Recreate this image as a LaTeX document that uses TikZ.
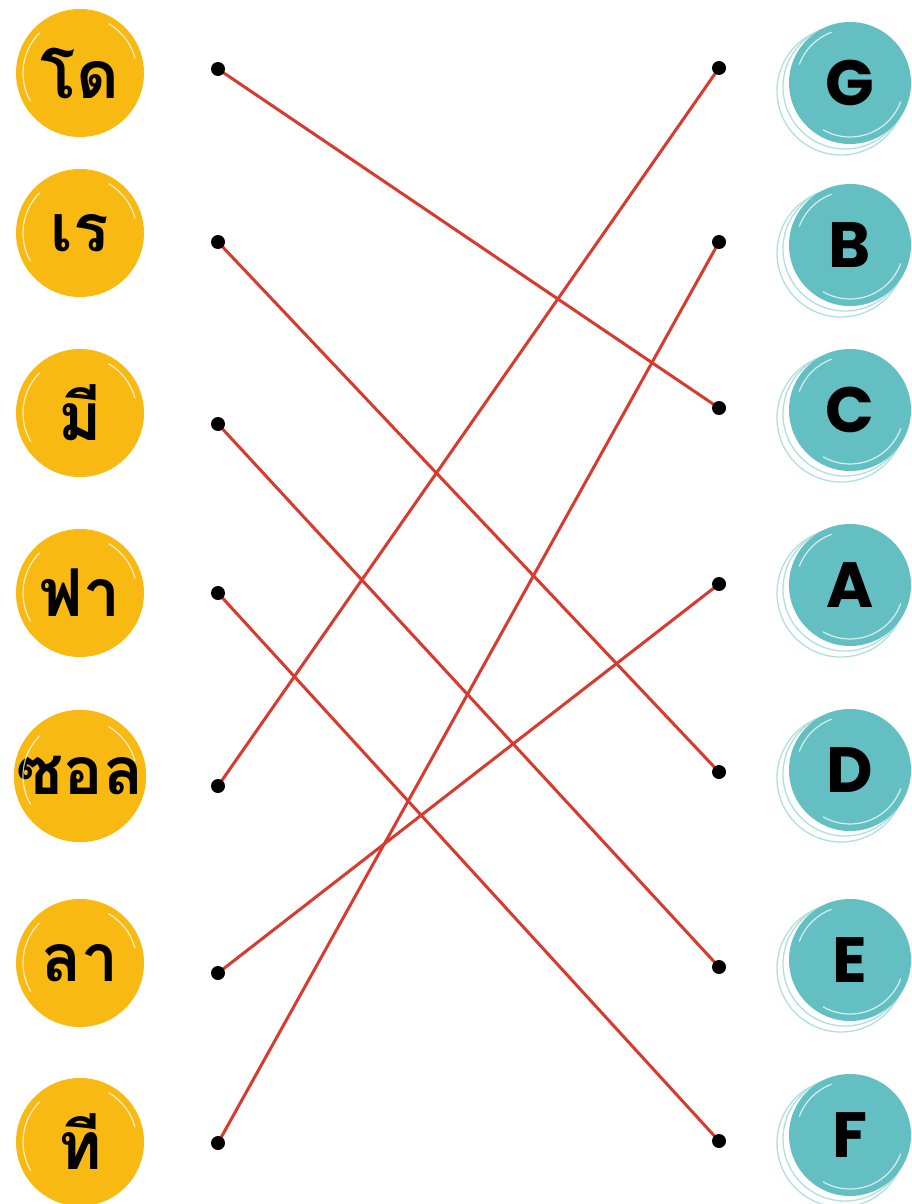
\documentclass[tikz,border=0pt]{standalone}
\usepackage{fontspec}
\setmainfont{Poppins}
\newfontfamily\thaifont[Script=Thai]{Loma}
\usetikzlibrary{backgrounds}
\definecolor{gold}{HTML}{F8B912}
\definecolor{tealc}{HTML}{63BFC2}
\definecolor{linered}{HTML}{DA3A2E}
\tikzset{
  lbub/.style={circle, fill=gold, minimum size=128, inner sep=0pt,
    font=\thaifont\bfseries\fontsize{66}{66}\selectfont},
  rbub/.style={circle, fill=tealc, minimum size=122, inner sep=0pt,
    font=\bfseries\fontsize{64}{64}\selectfont},
  dotn/.style={circle, fill=black, minimum size=14, inner sep=0pt},
  conn/.style={draw=linered, line width=3pt},
  ring/.style={draw=tealc!50, line width=1.3pt},
  gloss/.style={draw=white, line width=1.2pt, opacity=0.75},
}
\begin{document}
\begin{tikzpicture}[x=1pt,y=-1pt]
\useasboundingbox (0,0) rectangle (912,1204);
% decorative rings behind teal bubbles
\foreach \yy in {83,245,410,585,770,960,1135}{
  \draw[ring] (841,\yy+8) circle (64);
  \draw[ring] (845,\yy+4) circle (62);
}
% left bubbles
\node[lbub] (do)  at (80,73)   {โด};
\node[lbub] (re)  at (80,233)  {เร};
\node[lbub] (mi)  at (80,413)  {มี};
\node[lbub] (fa)  at (80,593)  {ฟา};
\node[lbub] (sol) at (80,776)  {ซอล};
\node[lbub] (la)  at (80,963)  {ลา};
\node[lbub] (ti)  at (80,1142) {ที};
% right bubbles
\node[rbub] (G) at (850,83)   {G};
\node[rbub] (B) at (850,245)  {B};
\node[rbub] (C) at (850,410)  {C};
\node[rbub] (A) at (850,585)  {A};
\node[rbub] (D) at (850,770)  {D};
\node[rbub] (E) at (850,960)  {E};
\node[rbub] (F) at (850,1135) {F};
% glossy arcs
\foreach \n in {do,re,mi,fa,sol,la,ti}{
  \draw[gloss] (\n.center) ++(150:57) arc (150:225:57);
  \draw[gloss] (\n.center) ++(-60:57) arc (-60:-15:57);
}
\foreach \n in {G,B,C,A,D,E,F}{
  \draw[gloss] (\n.center) ++(20:54) arc (20:120:54);
  \draw[gloss] (\n.center) ++(200:54) arc (200:250:54);
}
% dots
\node[dotn] (l1) at (218,69)   {};
\node[dotn] (l2) at (218,242)  {};
\node[dotn] (l3) at (218,424)  {};
\node[dotn] (l4) at (218,593)  {};
\node[dotn] (l5) at (218,786)  {};
\node[dotn] (l6) at (218,973)  {};
\node[dotn] (l7) at (218,1143) {};
\node[dotn] (r1) at (719,68)   {};
\node[dotn] (r2) at (719,242)  {};
\node[dotn] (r3) at (719,408)  {};
\node[dotn] (r4) at (719,584)  {};
\node[dotn] (r5) at (719,772)  {};
\node[dotn] (r6) at (719,967)  {};
\node[dotn] (r7) at (719,1141) {};
% connectors
\begin{scope}[on background layer]
\fill[white] (0,0) rectangle (912,1204);
\draw[conn] (l1.center) -- (r3.center);
\draw[conn] (l2.center) -- (r5.center);
\draw[conn] (l3.center) -- (r6.center);
\draw[conn] (l4.center) -- (r7.center);
\draw[conn] (l5.center) -- (r1.center);
\draw[conn] (l6.center) -- (r4.center);
\draw[conn] (l7.center) -- (r2.center);
\end{scope}
\end{tikzpicture}
\end{document}
